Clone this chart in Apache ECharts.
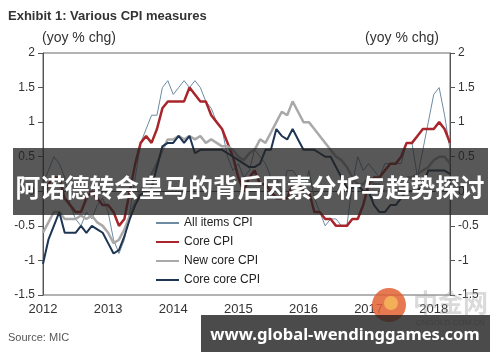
<!DOCTYPE html>
<html><head><meta charset="utf-8">
<script src="https://cdn.jsdelivr.net/npm/echarts@6/dist/echarts.min.js"></script>
<style>html,body{margin:0;padding:0;background:#fff}#c{width:500px;height:362px}</style>
</head><body><div id="c"></div>
<script>
// Tick labels / categories
const yearLabels = ['2012','2013','2014','2015','2016','2017','2018'];
const monthCount = [12,12,12,12,12,12,4];
const months = [];
yearLabels.forEach((y, k) => { for (let m = 1; m <= monthCount[k]; m++) months.push(y + '-' + (m < 10 ? '0' + m : m)); });

const seriesNames = ['All items CPI','Core CPI','New core CPI','Core core CPI'];

// yoy % chg, Jan 2012 .. Apr 2018
const allItems = [
  0.1, 0.3, 0.5, 0.4, 0.2, -0.2, -0.4, -0.5, -0.3, -0.4, -0.2, -0.1,
  -0.3, -0.7, -0.9, -0.7, -0.3, 0.2, 0.7, 0.9, 1.1, 1.1, 1.5, 1.6,
  1.4, 1.5, 1.6, 1.5, 1.6, 1.5, 1.3, 1.2, 1.0, 0.9, 0.5, 0.3,
  0.4, 0.2, 0.3, 0.6, 0.5, 0.4, 0.2, 0.2, 0.0, 0.3, 0.3, 0.2,
  0.0, 0.3, -0.1, -0.3, -0.5, -0.4, -0.4, -0.5, -0.5, 0.1, 0.5, 0.3,
  0.4, 0.3, 0.2, 0.4, 0.4, 0.4, 0.4, 0.7, 0.7, 0.2, 0.6, 1.0,
  1.4, 1.5, 1.1, 0.6
];
const coreCPI = [
  -0.1, 0.1, 0.2, 0.2, -0.1, -0.2, -0.3, -0.3, -0.1, 0.0, -0.1, -0.2,
  -0.2, -0.3, -0.5, -0.4, 0.0, 0.4, 0.7, 0.8, 0.7, 0.9, 1.2, 1.3,
  1.3, 1.3, 1.3, 1.5, 1.4, 1.3, 1.3, 1.1, 1.0, 0.9, 0.7, 0.5,
  0.2, 0.0, 0.2, 0.3, 0.1, 0.1, 0.0, -0.1, -0.1, -0.1, 0.1, 0.1,
  0.0, 0.0, -0.3, -0.3, -0.4, -0.4, -0.5, -0.5, -0.5, -0.4, -0.4, -0.2,
  0.1, 0.2, 0.2, 0.3, 0.4, 0.4, 0.5, 0.7, 0.7, 0.8, 0.9, 0.9,
  0.9, 1.0, 0.9, 0.7
];
const newCoreCPI = [
  -0.6, -0.45, -0.3, -0.3, -0.4, -0.4, -0.4, -0.35, -0.4, -0.35, -0.45, -0.5,
  -0.6, -0.75, -0.7, -0.55, -0.35, -0.15, 0.0, 0.15, 0.25, 0.4, 0.6, 0.75,
  0.75, 0.8, 0.75, 0.8, 0.75, 0.8, 0.7, 0.75, 0.7, 0.65, 0.65, 0.6,
  0.5, 0.45, 0.55, 0.6, 0.75, 0.7, 0.85, 1.0, 1.15, 1.1, 1.3, 1.15,
  1.0, 1.0, 0.9, 0.8, 0.7, 0.6, 0.5, 0.45, 0.35, 0.2, 0.1, 0.1,
  0.2, 0.1, 0.1, 0.0, 0.0, 0.0, 0.0, 0.2, 0.2, 0.25, 0.3, 0.35,
  0.45, 0.5, 0.5, 0.4
];
const coreCoreCPI = [
  -1.05, -0.7, -0.5, -0.3, -0.6, -0.6, -0.6, -0.5, -0.6, -0.5, -0.55, -0.6,
  -0.75, -0.9, -0.85, -0.65, -0.4, -0.2, -0.05, 0.0, 0.05, 0.35, 0.65, 0.7,
  0.7, 0.8, 0.7, 0.8, 0.55, 0.6, 0.6, 0.6, 0.6, 0.6, 0.55, 0.5,
  0.45, 0.4, 0.35, 0.35, 0.4, 0.6, 0.6, 0.9, 0.8, 0.75, 0.9, 0.75,
  0.6, 0.6, 0.6, 0.55, 0.5, 0.5, 0.35, 0.2, 0.05, 0.05, 0.1, 0.0,
  0.0, -0.2, -0.3, -0.3, -0.2, -0.2, -0.1, 0.0, 0.0, 0.0, 0.1, 0.3,
  0.3, 0.3, 0.3, 0.25
];

const FONT = 'Liberation Sans, Arial, sans-serif';
const chart = echarts.init(document.getElementById('c'), null, {renderer: 'canvas'});

function yAxisCfg(pos) {
  return {
    type: 'value', position: pos, min: -1.5, max: 2, interval: 0.5,
    axisLine: {show: true, lineStyle: {color: '#555', width: 1}},
    axisTick: {show: true, inside: false, length: 5, lineStyle: {color: '#555'}},
    axisLabel: {color: '#333', fontSize: 12, fontFamily: FONT, margin: 8, formatter: v => String(v)},
    splitLine: {show: false}
  };
}

const colors = ['#6d8ba3', '#a8262b', '#a9a9a9', '#1d3552'];
const widths = [1, 2.5, 2.5, 2];
const data = [allItems, coreCPI, newCoreCPI, coreCoreCPI];

chart.setOption({
  animation: false,
  grid: {left: 43, right: 50, top: 53, bottom: 67, show: true, borderColor: '#666', borderWidth: 1},
  legend: {
    orient: 'vertical', left: 155, top: 217, padding: 0, itemWidth: 23, itemHeight: 12, itemGap: 7,
    data: seriesNames,
    itemStyle: {color: 'transparent', borderColor: 'transparent', borderWidth: 0, opacity: 0},
    textStyle: {fontSize: 12, color: '#222', fontFamily: FONT}
  },
  xAxis: {
    type: 'category', data: months, boundaryGap: false,
    axisLine: {lineStyle: {color: '#555'}},
    axisTick: {show: false},
    axisLabel: {
      interval: i => i % 12 === 0, color: '#333', fontSize: 13, fontFamily: FONT, margin: 8,
      formatter: v => v.slice(0, 4)
    },
    splitLine: {show: false}
  },
  yAxis: [yAxisCfg('left'), yAxisCfg('right')],
  series: seriesNames.map((n, k) => ({
    name: n, type: 'line', data: data[k], showSymbol: false, symbol: 'none',
    lineStyle: {color: colors[k], width: widths[k]}, itemStyle: {color: colors[k]},
    z: 2 + k
  })),
  graphic: [
    {type: 'text', left: 8, top: 10, style: {text: 'Exhibit 1: Various CPI measures', font: 'bold 13px ' + FONT, fill: '#333'}},
    {type: 'text', left: 42, top: 31, style: {text: '(yoy % chg)', font: '14px ' + FONT, fill: '#333'}},
    {type: 'text', right: 61, top: 31, style: {text: '(yoy % chg)', font: '14px ' + FONT, fill: '#333'}},
    {type: 'text', left: 8, top: 332, style: {text: 'Source: MIC', font: '11px ' + FONT, fill: '#555'}},
    // watermark
    {type: 'circle', shape: {cx: 389, cy: 305, r: 17}, style: {fill: 'rgba(226,96,52,0.85)'}, z: 50},
    {type: 'circle', shape: {cx: 391, cy: 303, r: 7}, style: {fill: 'rgba(245,190,90,0.8)'}, z: 51},
    {type: 'text', left: 413, top: 290, style: {text: '中金网', font: 'bold 25px "Noto Sans CJK SC"', fill: 'rgba(150,150,150,0.35)'}, z: 50},
    {type: 'text', left: 416, top: 319, style: {text: 'CNGOLD.COM.CN', font: '8px ' + FONT, fill: 'rgba(140,140,140,0.6)'}, z: 50},
    // overlay banners
    {type: 'rect', shape: {x: 13, y: 148, width: 475, height: 67}, style: {fill: 'rgba(35,35,35,0.76)'}, z: 100},
    {type: 'text', x: 250, y: 188, style: {text: '阿诺德转会皇马的背后因素分析与趋势探讨', font: 'bold 24.7px "Noto Sans CJK SC"', fill: '#fff', textAlign: 'center', textVerticalAlign: 'middle'}, z: 101},
    {type: 'rect', shape: {x: 201, y: 315, width: 289, height: 37}, style: {fill: 'rgba(35,35,35,0.82)'}, z: 100},
    {type: 'text', x: 345, y: 335, style: {text: 'www.global-wendinggames.com', font: 'bold 16.6px "Noto Sans"', fill: '#fff', textAlign: 'center', textVerticalAlign: 'middle'}, z: 101}
  ]
});
</script></body></html>
